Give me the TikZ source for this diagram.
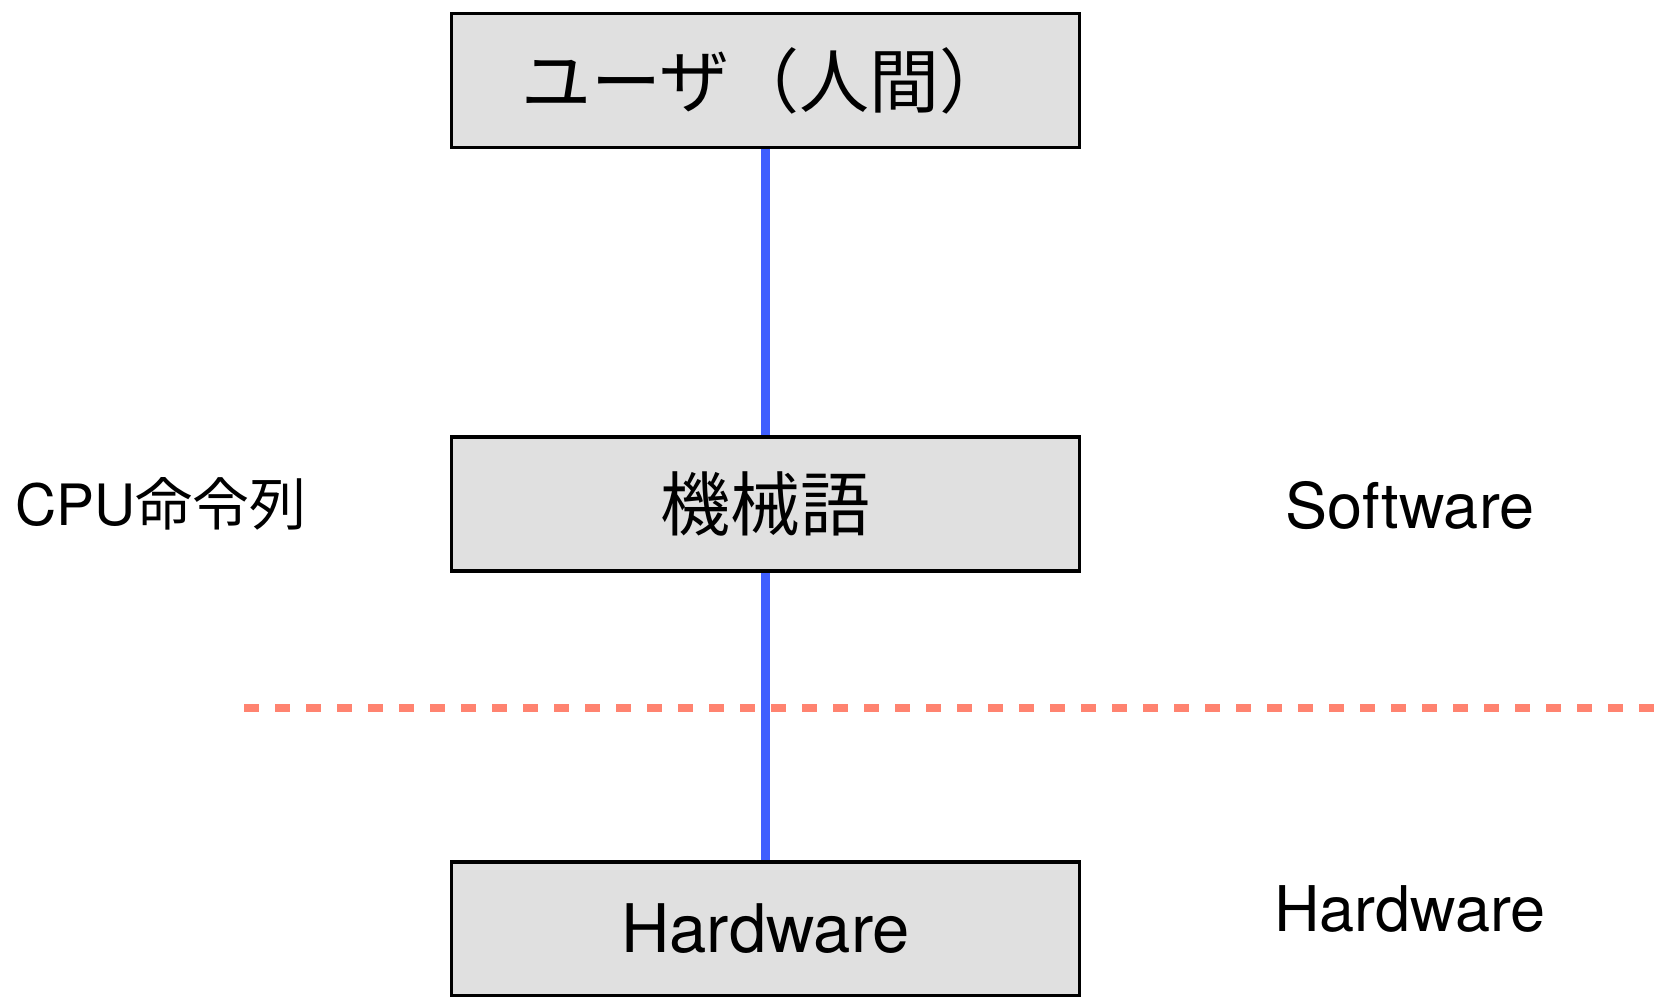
\documentclass[tikz,border=0pt]{standalone}
\usepackage{fontspec}
\setmainfont{TeX Gyre Heros}
\newfontfamily\jp{Noto Sans CJK JP}
\definecolor{boxgray}{HTML}{E0E0E0}
\definecolor{linkblue}{HTML}{3F5FFF}
\definecolor{layerred}{HTML}{FF8370}

\begin{document}
\begin{tikzpicture}[x=0.5pt,y=-0.5pt,
    box/.style={draw=black,line width=1.75pt,fill=boxgray,minimum width=314pt,minimum height=67pt,inner sep=0pt},
    link/.style={linkblue,line width=4.5pt},
    layer/.style={layerred,line width=4pt,dash pattern=on 7.5pt off 8pt}]
      \useasboundingbox (0,0) rectangle (1654,996);
      \node[box,font=\jp\fontsize{35}{40}\selectfont] (user) at (765.5,80.5) {ユーザ（人間）};
      \node[box,font=\jp\fontsize{35}{40}\selectfont] (machine) at (765.5,504) {機械語};
      \node[box,font=\fontsize{33.5}{40}\selectfont] (hw) at (765.5,929) {Hardware};
      \node[font=\fontsize{28.5}{34}\selectfont] (cpu) at (161,504) {CPU{\jp 命令列}};
      \node[font=\fontsize{31.5}{36}\selectfont] (software) at (1410,506) {Software};
      \node[font=\fontsize{31.5}{36}\selectfont] (hardware) at (1410,909) {Hardware};
      \coordinate (divL) at (244,708);
      \coordinate (divR) at (1654,708);
      \draw[layer] (divL) -- (divR);
      \draw[link] (user) -- (machine);
      \draw[link] (machine) -- (hw);
\end{tikzpicture}
\end{document}
